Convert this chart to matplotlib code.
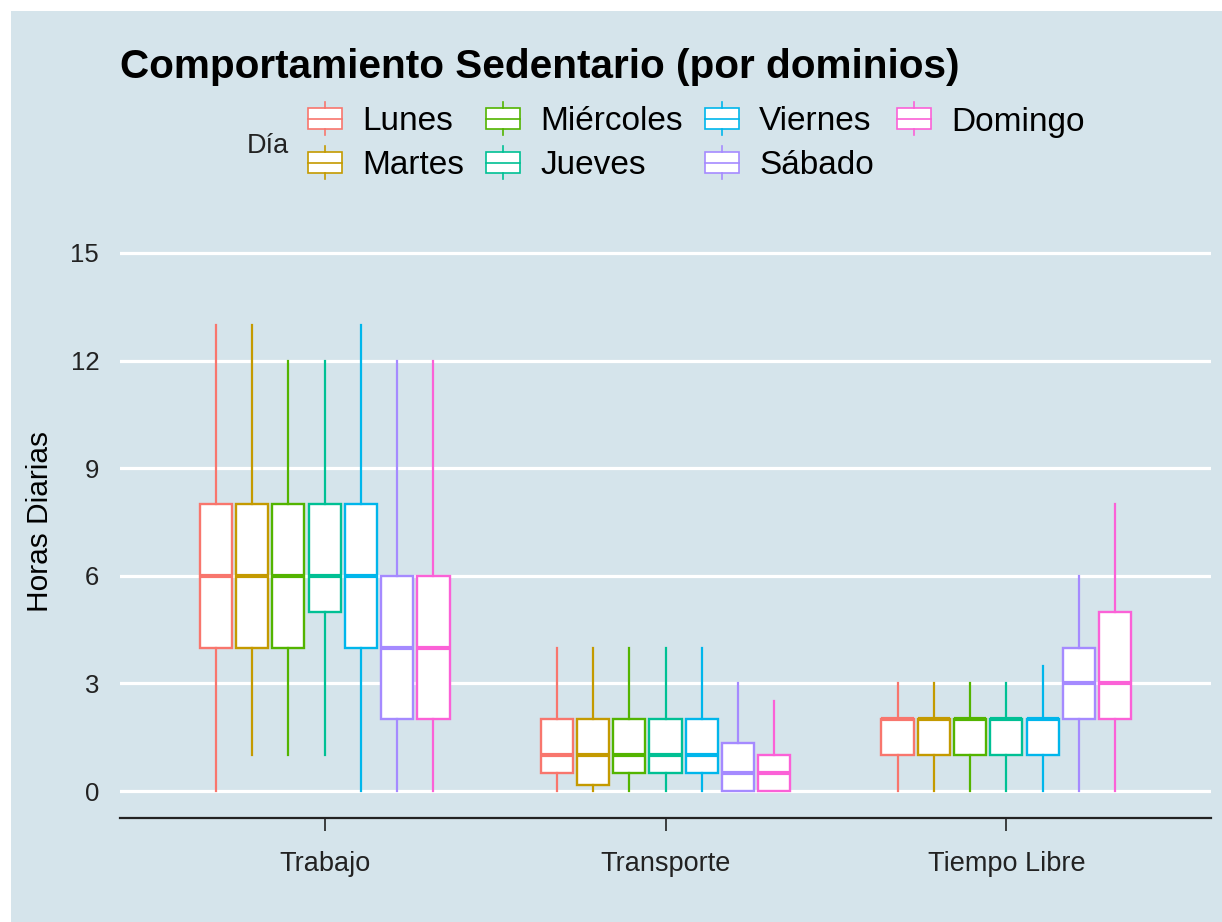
import matplotlib
matplotlib.use("Agg")
import matplotlib.pyplot as plt
from matplotlib.patches import Rectangle

# datos (horas diarias)
dominios = ["Trabajo", "Transporte", "Tiempo Libre"]
dias = ["Lunes", "Martes", "Miércoles", "Jueves", "Viernes", "Sábado", "Domingo"]
colores = ["#F8766D", "#C49A00", "#53B400", "#00C094", "#00B6EB", "#A58AFF", "#FB61D7"]

# por dia: [Trabajo, Transporte, Tiempo Libre]
bigote_inf = [
    [0, 0, 0],
    [1, 0, 0],
    [1, 0, 0],
    [1, 0, 0],
    [0, 0, 0],
    [0, 0, 0],
    [0, 0, 0],
]
q1 = [
    [4, 0.5, 1],
    [4, 0.17, 1],
    [4, 0.5, 1],
    [5, 0.5, 1],
    [4, 0.5, 1],
    [2, 0, 2],
    [2, 0, 2],
]
mediana = [
    [6, 1, 2],
    [6, 1, 2],
    [6, 1, 2],
    [6, 1, 2],
    [6, 1, 2],
    [4, 0.5, 3],
    [4, 0.5, 3],
]
q3 = [
    [8, 2, 2],
    [8, 2, 2],
    [8, 2, 2],
    [8, 2, 2],
    [8, 2, 2],
    [6, 1.33, 4],
    [6, 1, 5],
]
bigote_sup = [
    [13, 4, 3],
    [13, 4, 3],
    [12, 4, 3],
    [12, 4, 3],
    [13, 4, 3.5],
    [12, 3, 6],
    [12, 2.5, 8],
]

W, H = 1222, 922
FONDO = "#d5e4eb"
plt.rcParams["font.family"] = ["Liberation Sans", "DejaVu Sans"]

fig = plt.figure(figsize=(W / 100, H / 100), dpi=100, facecolor="white")
fig.patches.append(Rectangle((11 / W, 0), 1 - 11 / W, 1 - 11 / H,
                             transform=fig.transFigure, facecolor=FONDO,
                             edgecolor="none", zorder=-10))

# area del panel en pixeles
left, right, top, bottom = 120, 1211, 226, 818
ax = fig.add_axes([left / W, (H - bottom) / H, (right - left) / W, (bottom - top) / H])
ax.set_facecolor("none")

paso = 0.1065
ancho = 0.094
for i, dia in enumerate(dias):
    stats = []
    for j in range(len(dominios)):
        stats.append({
            "whislo": bigote_inf[i][j], "q1": q1[i][j], "med": mediana[i][j],
            "q3": q3[i][j], "whishi": bigote_sup[i][j], "fliers": [],
        })
    pos = [j + 1 + (i - 3) * paso for j in range(len(dominios))]
    c = colores[i]
    ax.bxp(stats, positions=pos, widths=ancho, showcaps=False, patch_artist=True,
           boxprops=dict(facecolor="white", edgecolor=c, linewidth=1.7),
           whiskerprops=dict(color=c, linewidth=1.6),
           medianprops=dict(color=c, linewidth=3, solid_capstyle="butt"),
           manage_ticks=False, zorder=3)

ax.set_xlim(0.4, 3.6)
ax.set_ylim(-0.75, 15.75)
ax.set_yticks([0, 3, 6, 9, 12, 15])
ax.set_xticks([1, 2, 3])
ax.set_xticklabels(dominios)
ax.yaxis.grid(True, color="white", linewidth=2.3, zorder=0)
ax.set_axisbelow(True)
for s in ["top", "right", "left"]:
    ax.spines[s].set_visible(False)
ax.spines["bottom"].set_color("#222222")
ax.spines["bottom"].set_linewidth(1.6)
ax.tick_params(axis="y", length=0, pad=15, labelsize=18.5, labelcolor="#222222")
ax.tick_params(axis="x", length=9, width=1.2, color="#222222", pad=15,
               labelsize=19.5, labelcolor="#222222", direction="out")
ax.set_ylabel("Horas Diarias", fontsize=21.5, labelpad=12)

# titulo
fig.text(left / W, 1 - 67 / H, "Comportamiento Sedentario (por dominios)",
         fontsize=29.2, fontweight="bold", va="center", ha="left")

# leyenda dibujada en coordenadas de pixel
leg = fig.add_axes([0, 0, 1, 1], facecolor="none")
leg.set_xlim(0, W)
leg.set_ylim(H, 0)
leg.axis("off")
leg.text(247, 146, "Día", fontsize=19.5, va="center", ha="left", color="#222222")
col_x = [308, 486, 705, 897]
fila_y = [119, 163]
for i, dia in enumerate(dias):
    kx = col_x[i // 2]
    cy = fila_y[i % 2]
    c = colores[i]
    leg.add_patch(Rectangle((kx, cy - 10.5), 34, 21, facecolor="white",
                            edgecolor=c, linewidth=1.2))
    leg.plot([kx + 17, kx + 17], [cy - 17, cy - 10.5], color=c, linewidth=1.2)
    leg.plot([kx + 17, kx + 17], [cy + 10.5, cy + 16], color=c, linewidth=1.2)
    leg.plot([kx, kx + 34], [cy, cy], color=c, linewidth=1.2)
    leg.text(kx + 54, cy + 3, dia, fontsize=24, va="center", ha="left", color="black")

fig.savefig("out.png", dpi=100, facecolor="white")
